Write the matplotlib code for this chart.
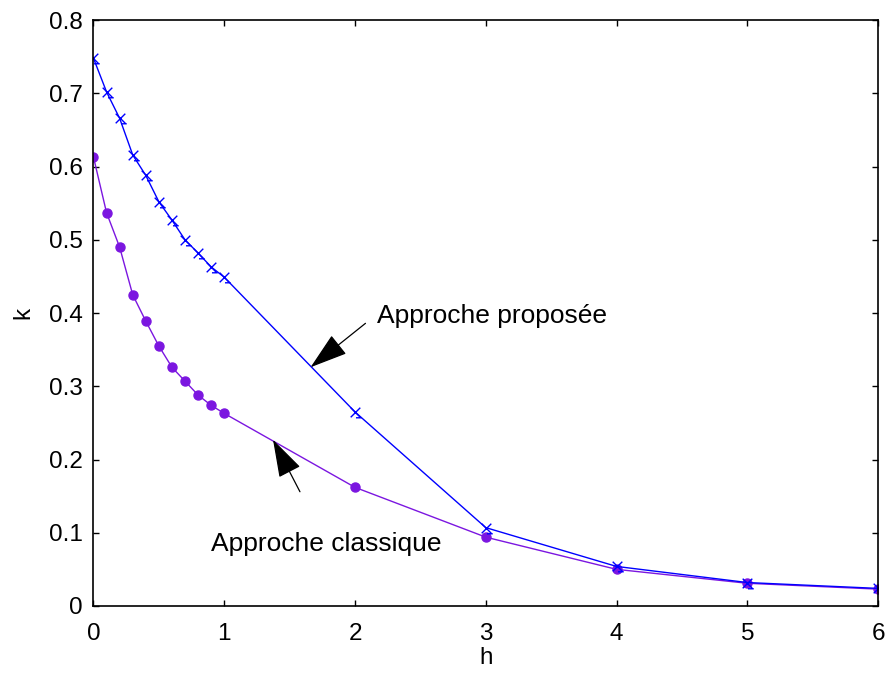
import matplotlib
matplotlib.use('Agg')
import matplotlib.pyplot as plt
from matplotlib.path import Path

plt.rcParams['font.family'] = ['Liberation Sans', 'DejaVu Sans']

# Donnees
h = [0, 0.1, 0.2, 0.3, 0.4, 0.5, 0.6, 0.7, 0.8, 0.9, 1, 2, 3, 4, 5, 6]
k_proposee = [0.748, 0.702, 0.666, 0.616, 0.588, 0.552, 0.527, 0.500, 0.482,
              0.463, 0.449, 0.265, 0.107, 0.054, 0.032, 0.024]
k_classique = [0.613, 0.537, 0.490, 0.425, 0.389, 0.355, 0.326, 0.307, 0.288,
               0.274, 0.263, 0.162, 0.094, 0.050, 0.031, 0.023]

xticks = [0, 1, 2, 3, 4, 5, 6]
yticks = [0, 0.1, 0.2, 0.3, 0.4, 0.5, 0.6, 0.7, 0.8]

# marqueur "x" avec petit tiret (comme l'export matlab)
x_mark = Path([(-1, -1), (1, 1), (-1, 1), (1, -1), (0.1, -1.1), (1.3, -1.1)],
              [Path.MOVETO, Path.LINETO, Path.MOVETO, Path.LINETO,
               Path.MOVETO, Path.LINETO])

fig = plt.figure(figsize=(8.87, 6.73), dpi=100)
ax = fig.add_axes([0.1054, 0.0996, 0.8845, 0.8704])

ax.plot(h, k_classique, '-', color='#7B16E0', lw=1, marker='o',
        markersize=6.5, markeredgecolor='#7B16E0', markerfacecolor='#7B16E0')
ax.plot(h, k_proposee, '-', color='#0000FF', lw=1, marker=x_mark,
        markersize=9, markeredgewidth=1, markerfacecolor='none',
        markeredgecolor='#0000FF')

ax.set_xlim(0, 6)
ax.set_ylim(0, 0.8)
ax.set_xticks(xticks)
ax.set_yticks(yticks)
ax.set_xticklabels([str(t) for t in xticks])
ax.set_yticklabels(['0'] + ['%.1f' % t for t in yticks[1:]])
ax.tick_params(direction='in', top=True, right=True, length=4, width=1,
               labelsize=17.5)
ax.tick_params(axis='x', pad=12)
ax.tick_params(axis='y', pad=8)
for s in ax.spines.values():
    s.set_linewidth(1.2)

ax.set_xlabel('h', fontsize=17.5, labelpad=2)
ax.set_ylabel('k', fontsize=17.5, labelpad=10)

fleche = dict(arrowstyle='-|>,head_length=1.2,head_width=0.38',
              mutation_scale=20, color='black', lw=0.9, shrinkA=0, shrinkB=0)

# Annotations
ax.text(2.17, 0.396, 'Approche proposée', fontsize=19, va='center', ha='left')
ax.annotate('', xy=(1.66, 0.326), xytext=(2.08, 0.386), arrowprops=fleche)
ax.text(0.9, 0.084, 'Approche classique', fontsize=19, va='center', ha='left')
ax.annotate('', xy=(1.373, 0.227), xytext=(1.579, 0.156), arrowprops=fleche)

fig.savefig('out.png', dpi=100)
